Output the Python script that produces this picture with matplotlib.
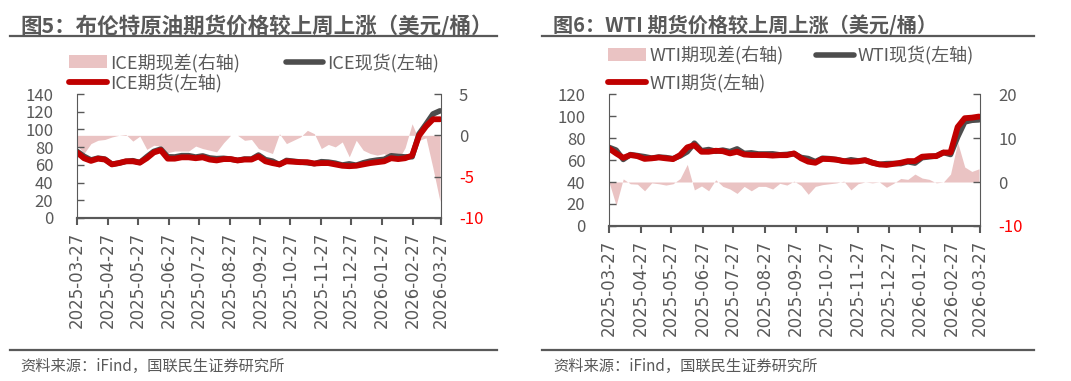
import matplotlib
matplotlib.use('Agg')
import matplotlib.pyplot as plt
import matplotlib.dates as mdates
from matplotlib.lines import Line2D
from matplotlib.patches import Patch
import pandas as pd

plt.rcParams['font.family'] = ['Noto Sans CJK SC', 'DejaVu Sans']

# 周度数据 2025-03-27 起
dates = pd.date_range('2025-03-27', periods=53, freq='7D')

ice_fut = [74.1, 67.5, 64.5, 67.0, 66.0, 60.5, 62.0, 64.0, 64.0, 62.5,
           67.5, 74.0, 76.5, 67.0, 67.0, 68.5, 68.5, 67.5, 68.5, 66.0,
           65.0, 66.5, 66.5, 65.0, 66.0, 66.0, 69.5, 64.0, 62.0, 60.5,
           64.0, 63.5, 63.0, 63.0, 61.5, 62.0, 62.0, 60.5, 59.0, 58.5,
           59.0, 60.5, 62.0, 63.0, 64.0, 67.5, 66.5, 67.5, 70.5, 93.0,
           103.5, 111.5, 111.5]
ice_spot = [75.3, 69.7, 65.5, 67.6, 66.5, 60.7, 62.0, 63.9, 64.7, 62.6,
            69.2, 75.2, 77.8, 69.1, 68.9, 70.4, 70.4, 68.8, 70.1, 67.8,
            67.0, 67.4, 66.5, 65.0, 66.6, 66.5, 71.1, 65.9, 64.2, 60.3,
            65.0, 64.1, 63.2, 62.4, 61.3, 63.6, 63.1, 61.9, 59.8, 61.1,
            59.6, 62.3, 64.2, 65.4, 66.2, 70.3, 69.5, 69.0, 69.1, 95.0,
            106.0, 117.5, 121.0]
ice_spread = [-1.2, -2.2, -1.0, -0.6, -0.5, -0.2, 0.0, 0.1, -0.7, -0.1,
              -1.7, -1.2, -1.3, -2.1, -1.9, -1.9, -1.9, -1.3, -1.6, -1.8,
              -2.0, -0.9, 0.0, 0.0, -0.6, -0.5, -1.6, -1.9, -2.2, 0.2,
              -1.0, -0.6, -0.2, 0.6, 0.2, -1.6, -1.1, -1.4, -0.8, -2.6,
              -0.6, -1.8, -2.2, -2.4, -2.2, -2.8, -3.0, -1.5, 1.4, -0.6,
              -0.3, -4.0, -8.0]

wti_fut = [70.5, 66.0, 62.0, 64.5, 63.5, 61.0, 61.5, 62.3, 61.5, 60.8,
           64.5, 71.5, 73.5, 67.5, 67.5, 68.4, 68.0, 66.0, 67.5, 65.0,
           64.5, 64.5, 64.5, 64.0, 64.4, 64.4, 66.0, 61.5, 58.5, 57.5,
           61.0, 60.8, 60.2, 59.0, 58.4, 58.8, 59.8, 57.5, 56.0, 55.5,
           56.5, 57.5, 59.0, 59.0, 63.0, 63.5, 63.5, 66.8, 66.8, 90.0,
           98.0, 98.5, 99.5]
wti_spot = [71.5, 69.0, 60.5, 64.9, 64.0, 63.0, 61.7, 62.7, 62.2, 61.2,
            63.7, 67.5, 75.3, 68.4, 69.5, 67.9, 69.0, 67.6, 70.1, 66.0,
            66.5, 65.5, 65.5, 65.6, 64.7, 65.1, 65.8, 62.3, 61.3, 58.5,
            61.6, 61.2, 60.4, 58.8, 60.2, 59.2, 59.8, 57.7, 56.0, 56.7,
            56.8, 56.7, 58.4, 57.2, 62.1, 62.9, 63.7, 66.8, 65.0, 81.0,
            94.6, 96.1, 96.5]
wti_spread = [0.0, -5.3, 0.7, -0.4, -0.5, -2.0, -0.2, -0.4, -0.7, -0.4,
              0.8, 4.0, -1.8, -0.9, -2.0, 0.5, -1.0, -1.6, -2.6, -1.0,
              -2.0, -1.0, -1.0, -1.6, -0.3, -0.7, 0.2, -0.8, -2.8, -1.0,
              -0.6, -0.4, -0.2, 0.2, -1.8, -0.4, 0.0, -0.2, 0.0, -1.2,
              -0.3, 0.8, 0.6, 1.8, 0.9, 0.6, -0.2, 0.0, 1.8, 9.0,
              3.4, 2.4, 3.0]

W, H = 1071, 381
GRAY = '#595959'
PINK = '#EAC3C3'
RED = '#C00000'
DARK = '#4D4D4D'

fig = plt.figure(figsize=(W / 100, H / 100), dpi=100)


def px(x0, y0, x1, y1):
    # 像素框 -> figure 坐标
    return [x0 / W, 1 - y1 / H, (x1 - x0) / W, (y1 - y0) / H]


def panel(box, fut, spot, spread, name, lticks, rticks, title, tsize, tx, sep,
          leg_xy, leg_sp, colsp):
    ax2 = fig.add_axes(box)
    ax = fig.add_axes(box, sharex=ax2)
    ax.set_zorder(ax2.get_zorder() + 1)
    ax.patch.set_visible(False)

    ax2.fill_between(dates, spread, 0, color=PINK, lw=0)
    ax.plot(dates, spot, color=DARK, lw=4, solid_capstyle='round')
    ax.plot(dates, fut, color=RED, lw=4.2, solid_capstyle='round')

    ax.set_ylim(lticks[0], lticks[-1])
    ax.set_yticks(lticks)
    ax2.set_ylim(rticks[0], rticks[-1])
    ax2.set_yticks(rticks, labels=[str(t) for t in rticks])
    ax2.yaxis.tick_right()
    for t, lab in zip(rticks, ax2.get_yticklabels()):
        lab.set_color('#FF0000' if t < 0 else GRAY)

    ax.set_xlim(pd.Timestamp('2025-03-27'), pd.Timestamp('2026-03-27'))
    ax.xaxis.set_major_locator(mdates.MonthLocator(bymonthday=27))
    ax.xaxis.set_major_formatter(mdates.DateFormatter('%Y-%m-%d'))
    ax.tick_params(axis='x', direction='out', length=5, width=1.5, color=GRAY,
                   labelsize=12, labelcolor=GRAY, labelrotation=90, pad=5)
    for lab in ax.get_xticklabels():
        lab.set_family('DejaVu Sans')
    ax2.tick_params(axis='x', bottom=False, labelbottom=False)
    ax.tick_params(axis='y', direction='in', length=5, width=1, color=GRAY,
                   labelsize=12, labelcolor=GRAY, pad=17)
    ax2.tick_params(axis='y', direction='in', length=5, width=1, color=GRAY,
                    labelsize=12, pad=13)

    for a in (ax, ax2):
        a.spines['top'].set_visible(False)
        a.spines['left'].set_color(GRAY)
        a.spines['right'].set_color(GRAY)
        a.spines['bottom'].set_color(GRAY)
        a.spines['bottom'].set_linewidth(1.5)
    ax.spines['right'].set_visible(False)
    ax2.spines['left'].set_visible(False)

    handles = [Patch(facecolor=PINK, edgecolor='none'),
               Line2D([], [], color=RED, lw=4.2, solid_capstyle='round'),
               Line2D([], [], color=DARK, lw=4, solid_capstyle='round')]
    labels = [name + '期现差(右轴)', name + '期货(左轴)', name + '现货(左轴)']
    fig.legend(handles, labels, ncol=2, loc='upper left',
               bbox_to_anchor=(leg_xy[0] / W, 1 - leg_xy[1] / H),
               frameon=False, fontsize=13, labelcolor=GRAY,
               handlelength=2.1, handletextpad=0.2, columnspacing=colsp,
               labelspacing=leg_sp, borderpad=0, borderaxespad=0)

    fig.text(tx / W, 1 - 26 / H, title, fontsize=tsize, fontweight='bold',
             color=GRAY, va='center')
    fig.add_artist(Line2D([sep[0] / W, sep[1] / W], [1 - 36 / H] * 2, color=GRAY, lw=1.6))
    fig.add_artist(Line2D([sep[0] / W, sep[1] / W], [1 - 350 / H] * 2, color=GRAY, lw=1.6))
    fig.text(tx / W, 1 - 366 / H, '资料来源：iFind，国联民生证券研究所', fontsize=11,
             color=GRAY, va='center')


panel(px(77, 94, 441, 218), ice_fut, ice_spot, ice_spread, 'ICE',
      [0, 20, 40, 60, 80, 100, 120, 140], [-10, -5, 0, 5],
      '图5：布伦特原油期货价格较上周上涨（美元/桶）', 15.5, 20, (10, 497),
      (69, 53), 0.07, 2.5)
panel(px(609, 94, 980, 226), wti_fut, wti_spot, wti_spread, 'WTI',
      [0, 20, 40, 60, 80, 100, 120], [-10, 0, 10, 20],
      '图6：WTI 期货价格较上周上涨（美元/桶）', 14.5, 553, (542, 1034),
      (608, 46), 0.45, 1.8)

fig.savefig('out.png', dpi=100)
